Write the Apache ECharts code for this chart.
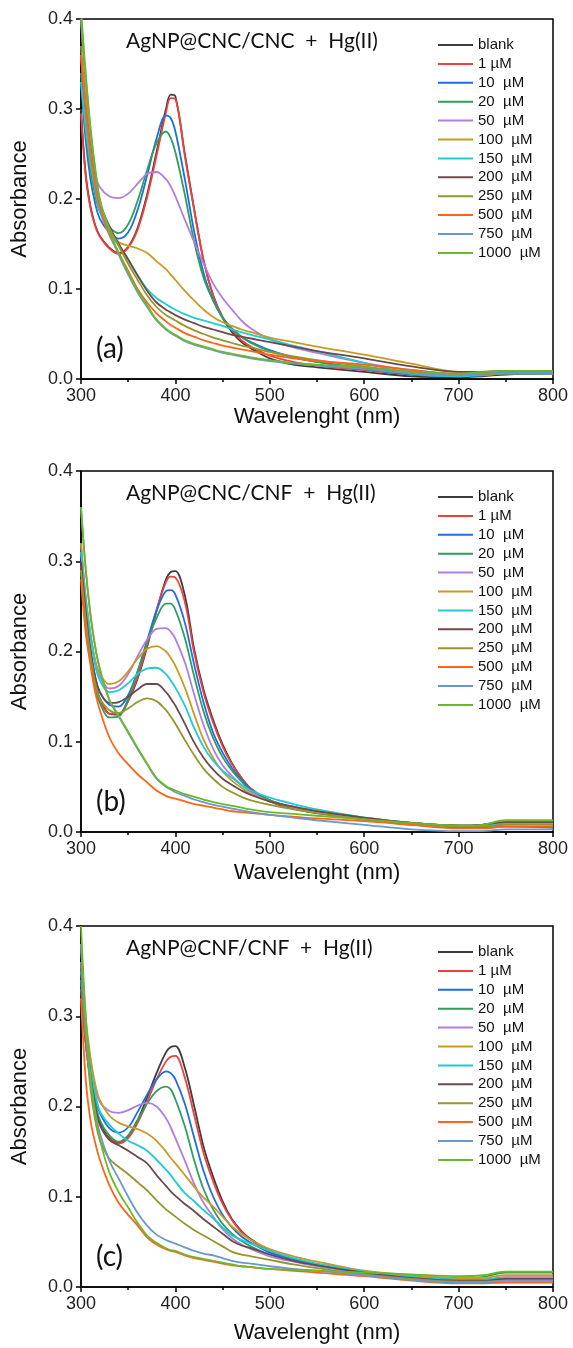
<!DOCTYPE html>
<html>
<head>
<meta charset="utf-8">
<script src="https://cdn.jsdelivr.net/npm/echarts@6/dist/echarts.min.js"></script>
<style>
  html, body { margin: 0; padding: 0; background: #fff; }
  #chart { width: 573px; height: 1348px; }
</style>
</head>
<body>
<div id="chart"></div>
<script>
// wavelength grid (nm) shared by every curve
const wavelengths = [300, 305, 310, 315, 320, 330, 340, 350, 360, 370, 380, 390, 395, 400, 410, 420,
  430, 440, 450, 460, 470, 480, 500, 525, 550, 600, 650, 700, 725, 750, 800];

const seriesNames = ['blank', '1 µM', '10  µM', '20  µM', '50  µM', '100  µM', '150  µM',
  '200  µM', '250  µM', '500  µM', '750  µM', '1000  µM'];

const xTicks = [300, 400, 500, 600, 700, 800];
const yTicks = [0.0, 0.1, 0.2, 0.3, 0.4];

// (a) AgNP@CNC/CNC + Hg(II)
const aBlank = [0.300, 0.228, 0.192, 0.171, 0.159, 0.146, 0.140, 0.147, 0.168, 0.205, 0.252, 0.300, 0.316, 0.314, 0.250, 0.188, 0.131, 0.093, 0.068, 0.052, 0.041, 0.034, 0.023, 0.016, 0.013, 0.008, 0.003, 0.002, 0.003, 0.005, 0.006];
const a1 = [0.295, 0.225, 0.190, 0.170, 0.158, 0.145, 0.139, 0.146, 0.166, 0.202, 0.248, 0.296, 0.312, 0.311, 0.248, 0.187, 0.131, 0.093, 0.069, 0.054, 0.043, 0.036, 0.026, 0.019, 0.015, 0.010, 0.005, 0.004, 0.005, 0.007, 0.008];
const a10 = [0.330, 0.265, 0.222, 0.195, 0.178, 0.163, 0.156, 0.163, 0.188, 0.226, 0.267, 0.293, 0.290, 0.275, 0.222, 0.163, 0.117, 0.088, 0.068, 0.056, 0.047, 0.041, 0.032, 0.024, 0.019, 0.011, 0.005, 0.003, 0.004, 0.006, 0.006];
const a20 = [0.340, 0.275, 0.232, 0.204, 0.186, 0.169, 0.162, 0.172, 0.198, 0.232, 0.262, 0.275, 0.268, 0.252, 0.205, 0.152, 0.112, 0.087, 0.068, 0.056, 0.047, 0.040, 0.031, 0.024, 0.019, 0.012, 0.006, 0.004, 0.005, 0.007, 0.008];
const a50 = [0.360, 0.295, 0.258, 0.228, 0.213, 0.203, 0.201, 0.206, 0.217, 0.228, 0.230, 0.222, 0.214, 0.203, 0.177, 0.152, 0.128, 0.106, 0.090, 0.077, 0.065, 0.056, 0.044, 0.035, 0.029, 0.018, 0.010, 0.006, 0.007, 0.008, 0.008];
const a100 = [0.400, 0.320, 0.262, 0.220, 0.192, 0.165, 0.152, 0.148, 0.145, 0.140, 0.131, 0.122, 0.116, 0.110, 0.098, 0.087, 0.077, 0.069, 0.063, 0.059, 0.055, 0.052, 0.046, 0.041, 0.036, 0.027, 0.017, 0.008, 0.008, 0.009, 0.009];
const a150 = [0.330, 0.280, 0.240, 0.210, 0.186, 0.162, 0.148, 0.132, 0.115, 0.100, 0.090, 0.083, 0.080, 0.077, 0.072, 0.068, 0.065, 0.062, 0.059, 0.055, 0.052, 0.049, 0.044, 0.037, 0.031, 0.018, 0.006, 0.003, 0.004, 0.006, 0.006];
const a200 = [0.360, 0.300, 0.255, 0.220, 0.195, 0.170, 0.150, 0.133, 0.115, 0.098, 0.085, 0.077, 0.074, 0.071, 0.066, 0.062, 0.058, 0.055, 0.052, 0.049, 0.047, 0.045, 0.041, 0.036, 0.031, 0.023, 0.014, 0.008, 0.008, 0.009, 0.009];
const a250 = [0.370, 0.300, 0.255, 0.220, 0.195, 0.168, 0.148, 0.128, 0.110, 0.093, 0.080, 0.071, 0.068, 0.065, 0.059, 0.054, 0.050, 0.046, 0.043, 0.040, 0.037, 0.035, 0.030, 0.025, 0.021, 0.014, 0.008, 0.005, 0.005, 0.006, 0.006];
const a500 = [0.360, 0.300, 0.250, 0.215, 0.190, 0.160, 0.140, 0.120, 0.100, 0.085, 0.073, 0.064, 0.060, 0.057, 0.051, 0.047, 0.043, 0.040, 0.037, 0.035, 0.033, 0.031, 0.027, 0.023, 0.020, 0.016, 0.010, 0.005, 0.006, 0.007, 0.007];
const a750 = [0.400, 0.335, 0.278, 0.232, 0.198, 0.163, 0.138, 0.116, 0.096, 0.080, 0.065, 0.055, 0.051, 0.048, 0.042, 0.038, 0.035, 0.032, 0.029, 0.027, 0.025, 0.023, 0.020, 0.017, 0.015, 0.011, 0.006, 0.004, 0.006, 0.007, 0.007];
const a1000 = [0.410, 0.340, 0.280, 0.235, 0.200, 0.165, 0.140, 0.118, 0.098, 0.082, 0.066, 0.056, 0.052, 0.049, 0.043, 0.039, 0.036, 0.033, 0.030, 0.028, 0.026, 0.024, 0.021, 0.018, 0.016, 0.013, 0.008, 0.006, 0.008, 0.009, 0.009];

// (b) AgNP@CNC/CNF + Hg(II)
const bBlank = [0.300, 0.240, 0.195, 0.165, 0.148, 0.131, 0.130, 0.145, 0.170, 0.205, 0.245, 0.280, 0.288, 0.289, 0.262, 0.202, 0.157, 0.124, 0.097, 0.076, 0.060, 0.048, 0.034, 0.026, 0.021, 0.014, 0.009, 0.006, 0.006, 0.010, 0.009];
const b1 = [0.295, 0.236, 0.192, 0.163, 0.147, 0.131, 0.131, 0.146, 0.172, 0.207, 0.246, 0.277, 0.283, 0.282, 0.255, 0.198, 0.154, 0.121, 0.095, 0.075, 0.060, 0.048, 0.035, 0.027, 0.022, 0.015, 0.010, 0.007, 0.007, 0.010, 0.010];
const b10 = [0.310, 0.250, 0.205, 0.172, 0.155, 0.141, 0.139, 0.152, 0.178, 0.212, 0.245, 0.267, 0.268, 0.263, 0.232, 0.185, 0.143, 0.110, 0.088, 0.071, 0.058, 0.047, 0.035, 0.027, 0.022, 0.014, 0.008, 0.005, 0.005, 0.006, 0.005];
const b20 = [0.290, 0.230, 0.190, 0.160, 0.143, 0.127, 0.128, 0.148, 0.178, 0.210, 0.237, 0.253, 0.253, 0.246, 0.215, 0.172, 0.133, 0.104, 0.083, 0.068, 0.056, 0.046, 0.035, 0.027, 0.022, 0.015, 0.010, 0.007, 0.008, 0.011, 0.011];
const b50 = [0.320, 0.260, 0.220, 0.190, 0.172, 0.159, 0.162, 0.175, 0.195, 0.213, 0.225, 0.226, 0.222, 0.214, 0.188, 0.152, 0.118, 0.092, 0.074, 0.062, 0.052, 0.044, 0.034, 0.027, 0.022, 0.015, 0.010, 0.007, 0.008, 0.011, 0.011];
const b100 = [0.320, 0.260, 0.220, 0.190, 0.175, 0.164, 0.167, 0.178, 0.192, 0.203, 0.206, 0.200, 0.193, 0.184, 0.160, 0.130, 0.102, 0.082, 0.067, 0.057, 0.049, 0.042, 0.034, 0.028, 0.023, 0.016, 0.010, 0.007, 0.007, 0.010, 0.010];
const b150 = [0.310, 0.255, 0.215, 0.185, 0.168, 0.155, 0.157, 0.165, 0.175, 0.181, 0.182, 0.175, 0.168, 0.160, 0.140, 0.115, 0.094, 0.079, 0.068, 0.060, 0.052, 0.046, 0.038, 0.031, 0.025, 0.016, 0.010, 0.007, 0.007, 0.010, 0.010];
const b200 = [0.300, 0.245, 0.200, 0.172, 0.155, 0.143, 0.144, 0.150, 0.158, 0.164, 0.164, 0.155, 0.148, 0.140, 0.120, 0.099, 0.082, 0.069, 0.059, 0.052, 0.046, 0.041, 0.034, 0.028, 0.023, 0.016, 0.010, 0.007, 0.008, 0.011, 0.011];
const b250 = [0.290, 0.235, 0.195, 0.165, 0.148, 0.135, 0.132, 0.137, 0.144, 0.148, 0.145, 0.135, 0.128, 0.120, 0.102, 0.085, 0.070, 0.059, 0.050, 0.044, 0.039, 0.035, 0.030, 0.025, 0.021, 0.014, 0.009, 0.006, 0.006, 0.008, 0.008];
const b500 = [0.280, 0.220, 0.185, 0.155, 0.135, 0.105, 0.087, 0.075, 0.064, 0.055, 0.046, 0.040, 0.038, 0.037, 0.034, 0.031, 0.029, 0.027, 0.025, 0.023, 0.022, 0.021, 0.019, 0.017, 0.015, 0.012, 0.008, 0.004, 0.004, 0.006, 0.006];
const b750 = [0.360, 0.290, 0.240, 0.205, 0.180, 0.146, 0.128, 0.110, 0.092, 0.075, 0.059, 0.050, 0.047, 0.044, 0.040, 0.036, 0.033, 0.030, 0.028, 0.026, 0.024, 0.022, 0.019, 0.016, 0.013, 0.008, 0.003, 0.001, 0.001, 0.003, 0.003];
const b1000 = [0.360, 0.292, 0.242, 0.206, 0.181, 0.147, 0.129, 0.111, 0.093, 0.076, 0.060, 0.051, 0.048, 0.046, 0.042, 0.039, 0.036, 0.033, 0.031, 0.029, 0.027, 0.025, 0.022, 0.020, 0.018, 0.014, 0.010, 0.007, 0.008, 0.013, 0.013];

// (c) AgNP@CNF/CNF + Hg(II)
const cBlank = [0.330, 0.270, 0.230, 0.200, 0.182, 0.165, 0.160, 0.167, 0.185, 0.210, 0.237, 0.260, 0.266, 0.267, 0.243, 0.200, 0.155, 0.122, 0.095, 0.075, 0.062, 0.053, 0.040, 0.031, 0.025, 0.016, 0.010, 0.007, 0.007, 0.010, 0.010];
const c1 = [0.330, 0.270, 0.230, 0.200, 0.180, 0.164, 0.159, 0.165, 0.182, 0.205, 0.230, 0.250, 0.255, 0.256, 0.232, 0.190, 0.148, 0.117, 0.092, 0.074, 0.061, 0.052, 0.039, 0.030, 0.024, 0.015, 0.009, 0.006, 0.006, 0.008, 0.008];
const c10 = [0.340, 0.280, 0.240, 0.210, 0.193, 0.176, 0.171, 0.177, 0.194, 0.213, 0.230, 0.239, 0.237, 0.230, 0.203, 0.165, 0.128, 0.100, 0.080, 0.066, 0.056, 0.049, 0.038, 0.030, 0.025, 0.017, 0.011, 0.008, 0.008, 0.010, 0.010];
const c20 = [0.340, 0.280, 0.235, 0.205, 0.185, 0.168, 0.161, 0.168, 0.185, 0.203, 0.217, 0.222, 0.219, 0.208, 0.178, 0.140, 0.108, 0.086, 0.070, 0.059, 0.051, 0.045, 0.036, 0.029, 0.024, 0.017, 0.012, 0.010, 0.011, 0.016, 0.016];
const c50 = [0.360, 0.290, 0.250, 0.222, 0.205, 0.195, 0.193, 0.196, 0.201, 0.204, 0.200, 0.187, 0.177, 0.165, 0.140, 0.114, 0.093, 0.078, 0.064, 0.054, 0.047, 0.042, 0.034, 0.028, 0.023, 0.016, 0.011, 0.008, 0.008, 0.011, 0.011];
const c100 = [0.380, 0.300, 0.255, 0.225, 0.207, 0.190, 0.182, 0.178, 0.175, 0.170, 0.162, 0.150, 0.143, 0.137, 0.124, 0.111, 0.099, 0.089, 0.078, 0.067, 0.059, 0.052, 0.042, 0.034, 0.028, 0.018, 0.013, 0.010, 0.010, 0.013, 0.013];
const c150 = [0.350, 0.290, 0.245, 0.215, 0.195, 0.180, 0.170, 0.162, 0.157, 0.151, 0.141, 0.130, 0.124, 0.117, 0.104, 0.095, 0.085, 0.076, 0.066, 0.057, 0.052, 0.048, 0.040, 0.032, 0.026, 0.017, 0.011, 0.008, 0.008, 0.010, 0.010];
const c200 = [0.360, 0.290, 0.235, 0.200, 0.180, 0.163, 0.157, 0.151, 0.144, 0.137, 0.124, 0.112, 0.106, 0.101, 0.092, 0.084, 0.075, 0.067, 0.059, 0.051, 0.046, 0.043, 0.036, 0.029, 0.024, 0.016, 0.010, 0.007, 0.007, 0.009, 0.009];
const c250 = [0.360, 0.280, 0.220, 0.185, 0.163, 0.142, 0.133, 0.125, 0.116, 0.107, 0.096, 0.086, 0.082, 0.078, 0.070, 0.063, 0.057, 0.051, 0.045, 0.039, 0.036, 0.034, 0.030, 0.025, 0.021, 0.014, 0.009, 0.006, 0.006, 0.007, 0.007];
const c500 = [0.320, 0.230, 0.185, 0.160, 0.141, 0.113, 0.093, 0.080, 0.068, 0.055, 0.047, 0.042, 0.040, 0.039, 0.035, 0.032, 0.030, 0.028, 0.026, 0.024, 0.023, 0.022, 0.020, 0.018, 0.016, 0.012, 0.007, 0.004, 0.004, 0.005, 0.005];
const c750 = [0.380, 0.290, 0.230, 0.195, 0.170, 0.140, 0.120, 0.100, 0.082, 0.068, 0.058, 0.052, 0.050, 0.048, 0.044, 0.040, 0.037, 0.035, 0.032, 0.029, 0.027, 0.026, 0.023, 0.020, 0.018, 0.013, 0.008, 0.005, 0.005, 0.007, 0.007];
const c1000 = [0.400, 0.300, 0.235, 0.190, 0.163, 0.127, 0.105, 0.088, 0.071, 0.057, 0.049, 0.043, 0.041, 0.040, 0.036, 0.033, 0.031, 0.029, 0.027, 0.025, 0.023, 0.022, 0.020, 0.019, 0.018, 0.016, 0.014, 0.012, 0.013, 0.017, 0.017];

const colors = ['#3c3c3c', '#f0403c', '#1f6ee0', '#2e9e5e', '#b07ee0', '#c99a24',
  '#1ecbd6', '#6c4a4a', '#96962c', '#ff6418', '#6a98cc', '#6cb82a'];

const panels = [
  { title: 'AgNP@CNC/CNC  +  Hg(II)', tag: '(a)', top: 19, height: 360, nameGap: 26,
    curves: [aBlank, a1, a10, a20, a50, a100, a150, a200, a250, a500, a750, a1000] },
  { title: 'AgNP@CNC/CNF  +  Hg(II)', tag: '(b)', top: 471, height: 361, nameGap: 30,
    curves: [bBlank, b1, b10, b20, b50, b100, b150, b200, b250, b500, b750, b1000] },
  { title: 'AgNP@CNF/CNF  +  Hg(II)', tag: '(c)', top: 926, height: 361, nameGap: 35,
    curves: [cBlank, c1, c10, c20, c50, c100, c150, c200, c250, c500, c750, c1000] },
];

const axisFont = 'Liberation Sans, Arial, sans-serif';
const labelFont = 'Lato, Open Sans, sans-serif';
const black = { color: '#000', width: 1.5 };

const option = {
  animation: false,
  backgroundColor: '#fff',
  grid: panels.map((p) => ({
    left: 81, top: p.top, width: 472, height: p.height,
    show: true, borderColor: '#000', borderWidth: 1.5, backgroundColor: 'transparent',
  })),
  xAxis: panels.map((p, i) => ({
    type: 'value', gridIndex: i, min: xTicks[0], max: xTicks[xTicks.length - 1], interval: 100,
    name: 'Wavelenght (nm)', nameLocation: 'middle', nameGap: p.nameGap,
    nameTextStyle: { fontSize: 22, color: '#111', fontFamily: axisFont },
    axisLine: { onZero: false, lineStyle: black },
    axisTick: { length: 5, lineStyle: black },
    minorTick: { show: true, splitNumber: 2, length: 3, lineStyle: black },
    axisLabel: { fontSize: 18, color: '#222', fontFamily: axisFont, margin: 8 },
    splitLine: { show: false },
  })),
  yAxis: panels.map((p, i) => ({
    type: 'value', gridIndex: i, min: yTicks[0], max: yTicks[yTicks.length - 1], interval: 0.1,
    name: 'Absorbance', nameLocation: 'middle', nameGap: 50, nameRotate: 90,
    nameTextStyle: { fontSize: 22, color: '#111', fontFamily: axisFont },
    axisLine: { onZero: false, lineStyle: black },
    axisTick: { length: 5, lineStyle: black },
    axisLabel: { fontSize: 18, color: '#222', fontFamily: axisFont, margin: 8,
      formatter: (v) => v.toFixed(1) },
    splitLine: { show: false },
  })),
  legend: panels.map((p) => ({
    data: seriesNames, orient: 'vertical', left: 437, top: p.top + 18.5,
    padding: 0, itemWidth: 35, itemHeight: 14, itemGap: 3.9,
    itemStyle: { opacity: 0 },
    textStyle: { fontSize: 15, color: '#111', fontFamily: axisFont },
    selectedMode: false,
  })),
  graphic: panels.flatMap((p) => [
    { type: 'text', left: 126, top: p.top + 12,
      style: { text: p.title, font: '21px ' + labelFont, fill: '#111' } },
    { type: 'text', left: 96, top: p.top + p.height - 44,
      style: { text: p.tag, font: '28px ' + labelFont, fill: '#111' } },
  ]),
  series: panels.flatMap((p, i) => p.curves.map((curve, k) => ({
    name: seriesNames[k], type: 'line', xAxisIndex: i, yAxisIndex: i,
    data: wavelengths.map((w, j) => [w, curve[j]]),
    smooth: 0.35, symbol: 'none', silent: true,
    lineStyle: { width: 1.8, color: colors[k] },
    itemStyle: { color: colors[k] },
  }))),
};

const chart = echarts.init(document.getElementById('chart'));
chart.setOption(option);
</script>
</body>
</html>
